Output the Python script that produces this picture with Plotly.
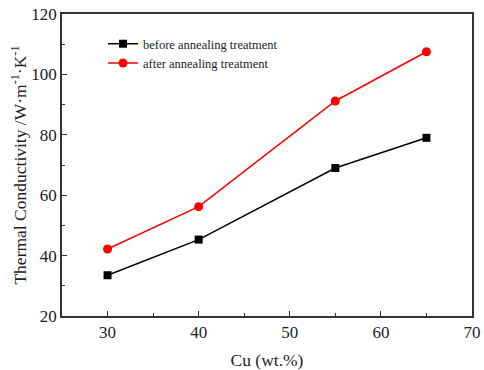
import plotly.graph_objects as go

cu = [30, 40, 55, 65]
before = [33.5, 45.3, 69.0, 79.0]
after = [42.2, 56.2, 91.2, 107.5]

fig = go.Figure()
fig.add_trace(go.Scatter(x=cu, y=before, mode="lines+markers", name="before annealing treatment",
                         line=dict(color="black", width=1.5),
                         marker=dict(symbol="square", size=8, color="black")))
fig.add_trace(go.Scatter(x=cu, y=after, mode="lines+markers", name="after annealing treatment",
                         line=dict(color="#ff0000", width=1.5),
                         marker=dict(symbol="circle", size=9, color="#ff0000")))

font = "Liberation Serif"
axis_common = dict(showgrid=False, zeroline=False, showline=True, linecolor="#333", linewidth=1.5,
                   mirror=True, ticks="inside", ticklen=5, tickwidth=1, tickcolor="#333",
                   tickfont=dict(family=font, size=17, color="#222"), automargin=False,
                   minor=dict(ticks="inside", ticklen=3, tickcolor="#333"))
fig.update_xaxes(range=[25, 70], tickvals=[30, 40, 50, 60, 70], dtick=10,
                 minor_dtick=5, minor_tick0=25,
                 title=dict(text="Cu (wt.%)", font=dict(family=font, size=17.5, color="#222"), standoff=16),
                 **axis_common)
fig.update_yaxes(range=[20, 120], dtick=20, minor_dtick=10,
                 title=dict(text="Thermal Conductivity /W·m<sup>-1</sup>·K<sup>-1</sup>",
                            font=dict(family=font, size=17.5, color="#222"), standoff=0),
                 **axis_common)
fig.update_layout(width=484, height=370, margin=dict(l=62, r=12, t=14, b=54),
                  plot_bgcolor="white", paper_bgcolor="white",
                  font=dict(family=font, color="#222"),
                  legend=dict(x=0.10, y=0.95, xanchor="left", yanchor="top",
                              font=dict(family=font, size=12.5, color="#222"),
                              bgcolor="rgba(0,0,0,0)", tracegroupgap=0, itemwidth=30))
fig.write_html("out.html")
